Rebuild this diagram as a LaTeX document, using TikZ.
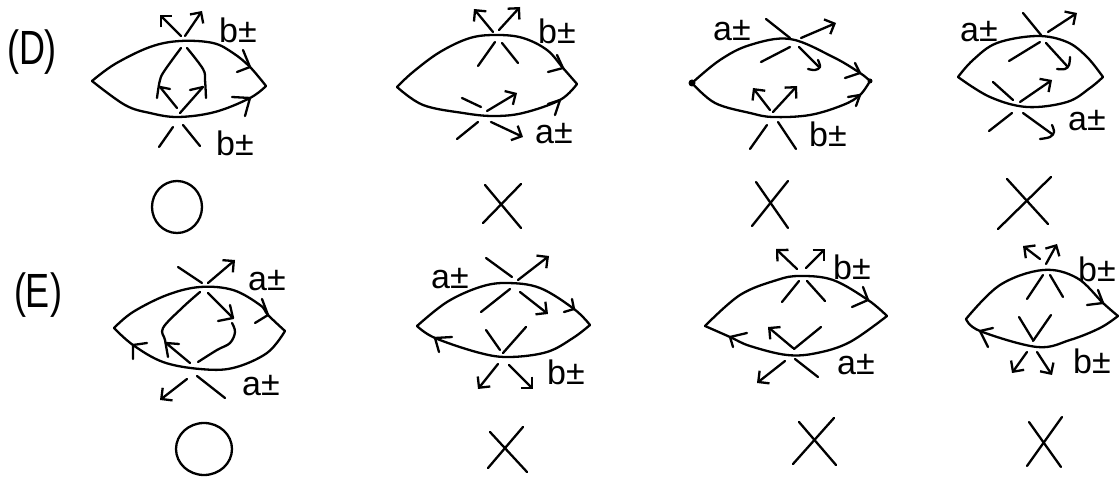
\documentclass[tikz,border=0pt]{standalone}
\usepackage{graphicx}
\usepackage{fontspec}
\setmainfont{Liberation Sans}
\usetikzlibrary{arrows.meta}
\tikzset{
  pen/.style={draw=black,line width=2.3pt,line cap=round,line join=round},
  arr/.style={pen,-{Straight Barb[length=8pt,width=16pt,line width=2.3pt]}},
  curve/.style={pen,smooth,tension=0.6},
  lab/.style={anchor=base west,inner sep=0pt,text=black,font=\fontsize{34}{34}\selectfont},
  head/.style={anchor=center,inner sep=0pt,text=black,font=\fontsize{48}{48}\selectfont}
}
\begin{document}
\begin{tikzpicture}[x=1pt,y=-1pt]
\useasboundingbox (0,0) rectangle (1120,478);
\fill[white] (0,0) rectangle (1120,478);
% headings
\node[head] (hd) at (32,52) {\scalebox{.75}[1]{(D)}};
\node[head] (he) at (38,295) {\scalebox{.75}[1]{(E)}};
% ---------- D1
\draw[curve] plot coordinates {(92,81)(115,64)(150,47)(180,41)(213,43)(233,53)(250,67)(266,86)};
\draw[curve] plot coordinates {(92,81)(125,105)(150,113)(178,117)(215,112)(250,98)(266,86)};
\draw[pen] (243,50)--(250,67)--(237,72);
\draw[pen] (232,97)--(250,98)--(245,116);
\draw[arr] (181,36)--(160,15);
\draw[arr] (185,36)--(202,11);
\draw[curve] plot coordinates {(181,48)(165,70)(160,80)(157,98)};
\draw[pen] (177,108)--(160,87)--(170,89);
\draw[curve] plot coordinates {(187,48)(203,69)(205,80)(206,98)};
\draw[pen] (180,113)--(203,87)--(190,90);
\draw[pen] (173,127)--(159,147);
\draw[pen] (183,125)--(200,146);
\draw[pen] (177,207) ellipse [x radius=25,y radius=26];
\node[lab] (l1) at (219,43) {b±};
\node[lab] (l2) at (216,156) {b±};
% ---------- D2
\draw[curve] plot coordinates {(397,87)(413,72)(440,52)(470,38)(497,35)(523,38)(547,50)(563,68)(577,84)};
\draw[curve] plot coordinates {(397,87)(423,105)(463,113)(493,116)(523,113)(560,100)(577,84)};
\draw[pen] (557,55)--(563,68)--(548,72);
\draw[pen] (548,104)--(560,100)--(555,115);
\draw[arr] (493,32)--(474,9);
\draw[arr] (499,30)--(520,7);
\draw[pen] (495,42)--(478,66);
\draw[pen] (502,43)--(518,63);
\draw[pen] (462,98)--(481,107);
\draw[arr] (487,111)--(517,93);
\draw[pen] (478,122)--(457,139);
\draw[arr] (491,122)--(523,137);
\draw[pen] (485,185)--(521,228);
\draw[pen] (521,184)--(483,223);
\node[lab] (l3) at (538,44) {b±};
\node[lab] (l4) at (535,144) {a±};
% ---------- D3
\draw[curve] plot coordinates {(692,83)(720,60)(750,45)(790,39)(833,57)(860,73)(870,81)};
\draw[curve] plot coordinates {(692,83)(715,103)(750,113)(773,117)(810,115)(843,105)(860,95)(870,81)};
\fill (692,83) circle (3.5pt);
\fill (870,81) circle (2.5pt);
\draw[pen] (855,63)--(860,73)--(845,78);
\draw[pen] (848,97)--(860,95)--(856,106);
\draw[pen] (766,19)--(790,38);
\draw[arr] (801,38)--(836,23);
\draw[pen] (790,47)--(761,62);
\draw[pen] (799,47)--(819,67);
\draw[curve] plot coordinates {(818,60)(820,67)(815,70)(808,69)};
\draw[arr] (770,110)--(753,88);
\draw[arr] (773,112)--(797,86);
\draw[pen] (767,125)--(750,149);
\draw[pen] (778,122)--(796,149);
\draw[pen] (756,182)--(788,228);
\draw[pen] (788,181)--(752,226);
\node[lab] (l5) at (809,147) {b±};
\node[lab] (l6) at (713,41) {a±};
% ---------- D4
\draw[curve] plot coordinates {(958,77)(973,60)(997,43)(1037,36)(1067,42)(1087,57)(1103,77)};
\draw[curve] plot coordinates {(958,77)(990,97)(1027,107)(1067,102)(1090,88)(1103,77)};
\draw[pen] (1023,13)--(1041,35);
\draw[arr] (1048,32)--(1077,13);
\draw[pen] (1040,42)--(1009,61);
\draw[pen] (1046,43)--(1067,66);
\draw[curve] plot coordinates {(1070,57)(1069,65)(1065,69)(1057,69)};
\draw[pen] (993,82)--(1013,100);
\draw[arr] (1020,102)--(1052,80);
\draw[pen] (1012,113)--(989,131);
\draw[pen] (1023,113)--(1052,134);
\draw[curve] plot coordinates {(1052,125)(1054,132)(1050,137)(1040,139)};
\draw[pen] (1007,179)--(1048,224);
\draw[pen] (1051,177)--(998,229);
\node[lab] (l7) at (960,42) {a±};
\node[lab] (l8) at (1068,131) {a±};
% ---------- E1
\draw[curve] plot coordinates {(114,328)(133,312)(167,295)(200,287)(233,290)(260,305)(268,315)(285,331)};
\draw[curve] plot coordinates {(114,328)(133,345)(163,362)(200,369)(233,368)(267,353)(285,331)};
\draw[pen] (262,299)--(268,315)--(255,323);
\draw[pen] (147,343)--(133,345)--(133,359);
\draw[pen] (178,267)--(202,283);
\draw[arr] (208,283)--(235,260);
\draw[curve] plot coordinates {(200,292)(182,308)(163,328)(165,340)(168,357)};
\draw[pen] (190,363)--(166,343)--(179,344);
\draw[pen] (208,293)--(233,318)--(218,321);
\draw[pen] (230,305)--(233,318);
\draw[curve] plot coordinates {(232,323)(235,332)(230,343)(217,350)(198,362)};
\draw[arr] (187,379)--(160,400);
\draw[pen] (197,376)--(225,398);
\draw[pen] (204,449) ellipse [x radius=28,y radius=26];
\node[lab] (l9) at (248,291) {a±};
\node[lab] (l10) at (242,396) {a±};
% ---------- E2
\draw[curve] plot coordinates {(417,326)(447,302)(480,287)(507,283)(540,288)(574,309)(590,325)};
\draw[curve] plot coordinates {(417,326)(435,338)(480,353)(510,357)(547,352)(573,338)(590,325)};
\draw[pen] (572,299)--(574,309)--(564,312);
\draw[pen] (452,337)--(435,338)--(439,352);
\draw[pen] (486,258)--(512,277);
\draw[arr] (518,280)--(549,256);
\draw[pen] (510,289)--(481,312);
\draw[arr] (520,292)--(548,314);
\draw[pen] (486,330)--(500,350);
\draw[pen] (503,353)--(526,327);
\draw[arr] (498,364)--(478,389);
\draw[arr] (509,365)--(533,389);
\draw[pen] (490,432)--(527,472);
\draw[pen] (523,427)--(488,468);
\node[lab] (l11) at (431,289) {a±};
\node[lab] (l12) at (547,385) {b±};
% ---------- E3
\draw[curve] plot coordinates {(705,326)(740,295)(777,280)(800,276)(833,280)(868,300)(887,316)};
\draw[curve] plot coordinates {(705,326)(730,337)(750,346)(787,355)(817,353)(850,342)(887,316)};
\draw[pen] (863,287)--(868,300)--(852,307);
\draw[pen] (747,333)--(730,337)--(733,347);
\draw[arr] (797,269)--(776,249);
\draw[arr] (806,268)--(825,249);
\draw[pen] (799,281)--(782,302);
\draw[pen] (807,281)--(825,301);
\draw[arr] (793,348)--(768,327);
\draw[pen] (794,349)--(821,327);
\draw[arr] (785,361)--(757,383);
\draw[pen] (795,359)--(818,377);
\draw[pen] (799,422)--(836,465);
\draw[pen] (834,418)--(793,464);
\node[lab] (l13) at (833,280) {b±};
\node[lab] (l14) at (837,375) {a±};
% ---------- E4
\draw[curve] plot coordinates {(966,319)(1000,285)(1043,270)(1077,278)(1103,303)(1118,316)};
\draw[curve] plot coordinates {(966,319)(980,331)(1037,347)(1070,340)(1100,328)(1118,316)};
\draw[pen] (1098,290)--(1103,303)--(1087,305);
\draw[pen] (993,328)--(980,331)--(988,347);
\draw[arr] (1040,259)--(1023,246);
\draw[arr] (1046,264)--(1057,244);
\draw[pen] (1043,275)--(1027,299);
\draw[pen] (1050,275)--(1063,297);
\draw[pen] (1019,317)--(1033,340);
\draw[pen] (1033,341)--(1051,315);
\draw[arr] (1027,352)--(1012,373);
\draw[arr] (1037,352)--(1052,375);
\draw[pen] (1029,422)--(1061,467);
\draw[pen] (1062,417)--(1027,466);
\node[lab] (l15) at (1078,282) {b±};
\node[lab] (l16) at (1073,374) {b±};
\end{tikzpicture}
\end{document}
